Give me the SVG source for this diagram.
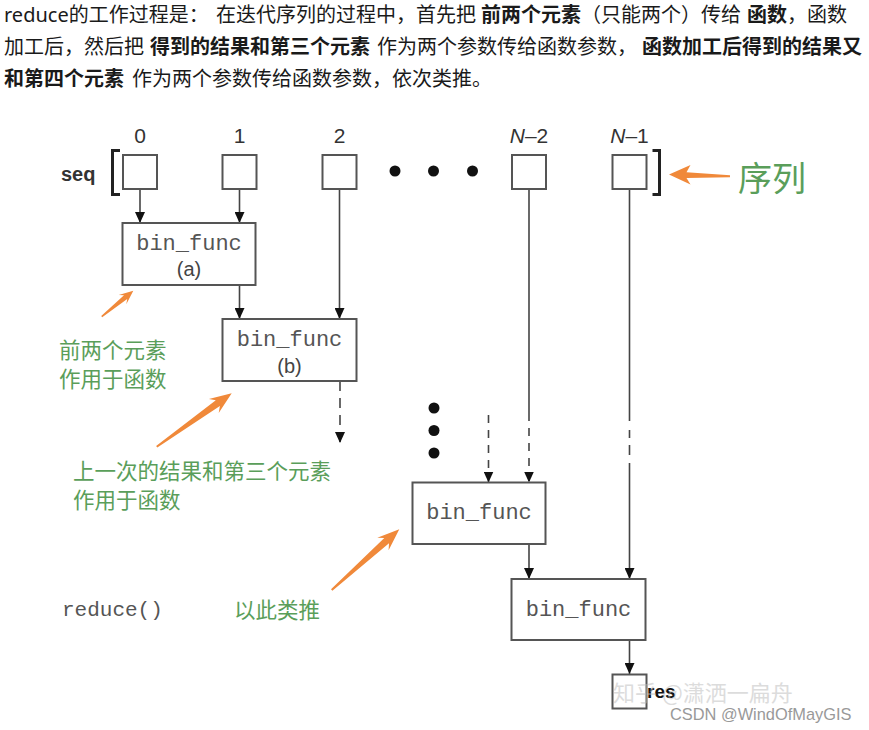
<svg xmlns="http://www.w3.org/2000/svg" width="869" height="730" viewBox="0 0 869 730">
<style>
.para{font-family:"Noto Sans","Noto Sans CJK SC",sans-serif;font-size:20px;fill:#1a1a1a}
.b{font-weight:700}
.idx{font-family:"Liberation Sans",Arial,sans-serif;font-size:21px;fill:#333;text-anchor:middle}
.lbl{font-family:"Liberation Sans",Arial,sans-serif;font-size:20px;font-weight:700;fill:#333}
.code{font-family:"Liberation Mono","Courier New",monospace;font-size:22px;fill:#555;text-anchor:middle}
.sub{font-family:"Liberation Sans",Arial,sans-serif;font-size:20px;fill:#444;text-anchor:middle}
.note{font-family:"Noto Sans CJK SC",sans-serif;font-size:21.5px;fill:#5a9e5a}
.box{fill:#fff;stroke:#555;stroke-width:2}
.ln{fill:none;stroke:#444;stroke-width:1.6}
.dot{fill:#111}
.orange{fill:#f0893a}
.brk{fill:none;stroke:#222;stroke-width:3}
</style>
<defs>
<marker id="ah" viewBox="0 0 11 10" refX="11" refY="5" markerWidth="11" markerHeight="10" markerUnits="userSpaceOnUse" orient="auto">
<path d="M0,0 L11,5 L0,10 z" fill="#111"/>
</marker>
</defs>
<rect width="869" height="730" fill="#fff"/>

<g id="paragraph" class="para">
<text y="21.5"><tspan x="4">reduce的工作过程是：</tspan><tspan x="216">在迭代序列的过程中，首先把</tspan><tspan x="481" class="b">前两个元素</tspan><tspan x="581">（只能两个）传给</tspan><tspan x="747" class="b">函数</tspan><tspan x="787">，函数</tspan></text>
<text y="53.5"><tspan x="4">加工后，然后把</tspan><tspan x="150" class="b">得到的结果和第三个元素</tspan><tspan x="377">作为两个参数传给函数参数，</tspan><tspan x="642" class="b">函数加工后得到的结果又</tspan></text>
<text y="85.5"><tspan x="4" class="b">和第四个元素</tspan><tspan x="132">作为两个参数传给函数参数，依次类推。</tspan></text>
</g>

<g id="connectors">
<path class="ln" d="M140,189 V223" marker-end="url(#ah)"/>
<path class="ln" d="M239.5,189 V223" marker-end="url(#ah)"/>
<path class="ln" d="M239.5,285 V319" marker-end="url(#ah)"/>
<path class="ln" d="M339.5,189 V319" marker-end="url(#ah)"/>
<path class="ln" d="M340,381 V443" stroke-dasharray="10 7" marker-end="url(#ah)"/>
<path class="ln" d="M488.5,415 V482.5" stroke-dasharray="8 7" marker-end="url(#ah)"/>
<path class="ln" d="M529,189 V421"/>
<path class="ln" d="M529,428 V482.5" stroke-dasharray="8 7" marker-end="url(#ah)"/>
<path class="ln" d="M629.5,189 V421 M629.5,430 V438 M629.5,445 V455 M629.5,463 V579" marker-end="url(#ah)"/>
<path class="ln" d="M529,544 V579" marker-end="url(#ah)"/>
<path class="ln" d="M629.5,640 V674" marker-end="url(#ah)"/>
</g>

<g id="seq">
<text class="lbl" x="61" y="181">seq</text>
<path class="brk" d="M120,150.5 H112.5 V194.5 H120"/>
<path class="brk" d="M652.5,150.5 H659.5 V194.5 H652.5"/>
</g>

<g id="elem-0"><text class="idx" x="140" y="143">0</text><rect class="box" x="123" y="155" width="34" height="34"/></g>
<g id="elem-1"><text class="idx" x="239.5" y="143">1</text><rect class="box" x="222.5" y="155" width="34" height="34"/></g>
<g id="elem-2"><text class="idx" x="339.5" y="143">2</text><rect class="box" x="322.5" y="155" width="34" height="34"/></g>
<g id="elem-n2"><text class="idx" x="529" y="143"><tspan font-style="italic">N</tspan>–2</text><rect class="box" x="512" y="155" width="34" height="34"/></g>
<g id="elem-n1"><text class="idx" x="629.5" y="143"><tspan font-style="italic">N</tspan>–1</text><rect class="box" x="612.5" y="155" width="34" height="34"/></g>

<g id="hdots">
<circle class="dot" cx="395" cy="171" r="5.5"/>
<circle class="dot" cx="433.5" cy="171" r="5.5"/>
<circle class="dot" cx="472.5" cy="171" r="5.5"/>
</g>
<g id="vdots">
<circle class="dot" cx="434" cy="408" r="5.5"/>
<circle class="dot" cx="434" cy="430.5" r="5.5"/>
<circle class="dot" cx="434" cy="453" r="5.5"/>
</g>

<g id="func-a"><rect class="box" x="122.5" y="223" width="133" height="62"/><text class="code" x="189" y="249.5">bin_func</text><text class="sub" x="189" y="276">(a)</text></g>
<g id="func-b"><rect class="box" x="222.5" y="319" width="134" height="62"/><text class="code" x="289.5" y="346">bin_func</text><text class="sub" x="289.5" y="372.5">(b)</text></g>
<g id="func-c"><rect class="box" x="412.5" y="482.5" width="133" height="61.5"/><text class="code" x="479" y="519">bin_func</text></g>
<g id="func-d"><rect class="box" x="511.5" y="579" width="134" height="61"/><text class="code" x="578.5" y="615.5">bin_func</text></g>

<g id="reduce-label"><text x="62" y="616" style="font-family:'Liberation Mono','Courier New',monospace;font-size:21px;fill:#555">reduce()</text></g>

<g id="note-seq">
<polygon class="orange" points="669,174.5 690.5,165 686.5,172.3 730,175.3 730,177.2 686.5,178 690.5,184.5"/>
<text class="note" x="738" y="191" style="font-size:34px">序列</text>
</g>
<g id="note-first">
<polygon class="orange" points="133.3,290.7 126.3,304.2 127.2,299.0 102.2,317.3 101.2,316.1 124.0,295.2 118.7,295.0"/>
<text class="note" x="59" y="358">前两个元素</text>
<text class="note" x="59" y="386.5">作用于函数</text>
</g>
<g id="note-second">
<polygon class="orange" points="231.7,393.3 218.7,413.0 219.9,406.0 157.3,447.5 156.1,445.9 215.8,400.3 208.9,399.1"/>
<text class="note" x="73" y="479">上一次的结果和第三个元素</text>
<text class="note" x="73" y="507.5">作用于函数</text>
</g>
<g id="note-etc">
<polygon class="orange" points="399.3,529.3 388.6,550.3 389.0,543.3 332.4,590.7 331.0,589.3 384.3,538.1 377.3,537.7"/>
<text class="note" x="234" y="617.5">以此类推</text>
</g>

<g id="res">
<rect class="box" x="612.5" y="674.5" width="34" height="34"/>
<text class="lbl" x="647" y="698" style="fill:#111;font-size:19px">res</text>
</g>

<g id="watermark">
<text x="613" y="701" style="font-family:'Noto Sans CJK SC',sans-serif;font-size:22px;fill:#bbb;opacity:0.5">知乎 @潇洒一扁舟</text>
<text x="670" y="720" style="font-family:'Liberation Sans',Arial,sans-serif;font-size:16.4px;fill:#999">CSDN @WindOfMayGIS</text>
</g>
</svg>
